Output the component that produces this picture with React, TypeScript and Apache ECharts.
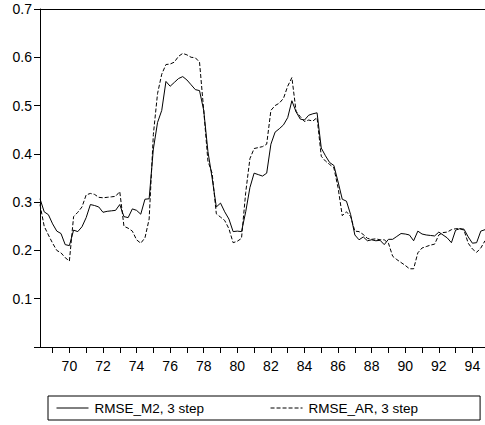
import React, { useEffect, useRef } from "react";
import * as echarts from "echarts";

const startYear = 1968;
const startQuarter = 2;
const quarters: string[] = [];
for (let k = 0; k < 107; k++) {
  const q = startQuarter - 1 + k;
  quarters.push(`${startYear + Math.floor(q / 4)}Q${(q % 4) + 1}`);
}

const seriesNames = ["RMSE_M2, 3 step", "RMSE_AR, 3 step"];

const rmseM2 = [
  0.307, 0.28, 0.274, 0.255, 0.24, 0.235, 0.212, 0.21, 0.242, 0.239,
  0.249, 0.268, 0.295, 0.293, 0.29, 0.279, 0.281, 0.282, 0.283, 0.295,
  0.27, 0.268, 0.286, 0.283, 0.275, 0.306, 0.307, 0.41, 0.465, 0.49,
  0.55, 0.54, 0.548, 0.556, 0.56, 0.553, 0.543, 0.533, 0.531, 0.49,
  0.405, 0.35, 0.29, 0.298, 0.28, 0.265, 0.239, 0.24, 0.239, 0.28,
  0.33, 0.36, 0.357, 0.354, 0.36, 0.42, 0.445, 0.452, 0.46, 0.475,
  0.51, 0.487, 0.472, 0.47, 0.48, 0.483, 0.485, 0.412, 0.396, 0.382,
  0.376, 0.342, 0.306, 0.302, 0.274, 0.232, 0.222, 0.228, 0.22, 0.222,
  0.22, 0.221, 0.212, 0.223, 0.223, 0.229, 0.235, 0.234, 0.232, 0.22,
  0.24, 0.234, 0.232, 0.231, 0.23, 0.238, 0.232, 0.226, 0.216, 0.242,
  0.245, 0.244, 0.228, 0.215, 0.216, 0.24, 0.243,
];

const rmseAR = [
  0.295, 0.25, 0.232, 0.215, 0.2, 0.195, 0.185, 0.178, 0.27, 0.279,
  0.29, 0.315, 0.318, 0.316, 0.31, 0.309, 0.31, 0.311, 0.312, 0.322,
  0.25, 0.246, 0.24, 0.222, 0.215, 0.226, 0.265, 0.44, 0.525, 0.565,
  0.585, 0.586, 0.59, 0.602, 0.608, 0.605, 0.6, 0.599, 0.59, 0.49,
  0.385, 0.36, 0.276, 0.269, 0.262, 0.245, 0.216, 0.219, 0.225, 0.32,
  0.39, 0.411, 0.413, 0.415, 0.42, 0.49, 0.5, 0.505, 0.515, 0.54,
  0.558, 0.488, 0.477, 0.467, 0.47, 0.468, 0.475, 0.395, 0.385, 0.378,
  0.371, 0.33, 0.272, 0.28, 0.27, 0.24, 0.239, 0.233, 0.225, 0.223,
  0.224, 0.222, 0.222, 0.215, 0.188, 0.181, 0.175, 0.169, 0.162, 0.162,
  0.195, 0.205, 0.208, 0.211, 0.213, 0.232, 0.237, 0.238, 0.243, 0.245,
  0.245, 0.242, 0.215, 0.203, 0.196, 0.205, 0.22,
];

const FONT = "Liberation Sans, Arial, sans-serif";

export default function App() {
  const ref = useRef<HTMLDivElement>(null);
  useEffect(() => {
    if (!ref.current) return;
    const chart = echarts.init(ref.current, undefined, { renderer: "svg" });
    const isQ1 = (_i: number, v: string) => v.endsWith("Q1");
    chart.setOption({
      animation: false,
      backgroundColor: "#ffffff",
      textStyle: { fontFamily: FONT, color: "#000" },
      grid: { left: 40, top: 9, right: 0, bottom: 78, containLabel: false },
      legend: {
        left: 48,
        top: 396,
        orient: "horizontal",
        padding: [5, 62, 5, 8],
        borderColor: "#000",
        borderWidth: 1,
        itemWidth: 32,
        itemHeight: 14,
        itemGap: 66,
        selectedMode: false,
        itemStyle: { opacity: 0, borderWidth: 0 },
        lineStyle: { width: 1 },
        textStyle: { fontFamily: FONT, fontSize: 13.5, color: "#000", padding: [0, 0, 0, 1] },
        data: seriesNames,
      },
      xAxis: [
        {
          type: "category",
          data: quarters,
          boundaryGap: false,
          axisLine: { show: true, lineStyle: { color: "#000", width: 1 } },
          axisTick: { show: true, interval: isQ1, length: 6, lineStyle: { color: "#000" } },
          axisLabel: {
            interval: (_i: number, v: string) => v.endsWith("Q1") && parseInt(v.slice(0, 4)) % 2 === 0,
            formatter: (v: string) => v.slice(2, 4),
            fontSize: 14,
            fontFamily: FONT,
            color: "#000",
            margin: 12,
          },
          splitLine: { show: false },
        },
        {
          type: "category",
          data: quarters,
          position: "top",
          boundaryGap: false,
          axisLine: { show: true, lineStyle: { color: "#000", width: 1 } },
          axisTick: { show: false },
          axisLabel: { show: false },
          splitLine: { show: false },
        },
      ],
      yAxis: {
        type: "value",
        min: 0,
        max: 0.7,
        interval: 0.1,
        axisLine: { show: true, lineStyle: { color: "#000", width: 1 } },
        axisTick: { show: true, length: 6, lineStyle: { color: "#000" } },
        axisLabel: {
          formatter: (v: number) => (v === 0 ? "" : v.toFixed(1)),
          fontSize: 14,
          fontFamily: FONT,
          color: "#000",
          margin: 8,
        },
        splitLine: { show: false },
      },
      series: [
        {
          name: seriesNames[0],
          type: "line",
          data: rmseM2,
          symbol: "none",
          showSymbol: false,
          lineStyle: { color: "#000", width: 1, type: "solid" },
          itemStyle: { color: "#000" },
        },
        {
          name: seriesNames[1],
          type: "line",
          data: rmseAR,
          symbol: "none",
          showSymbol: false,
          lineStyle: { color: "#000", width: 1, type: [4, 2] },
          itemStyle: { color: "#000" },
        },
      ],
    });
    return () => chart.dispose();
  }, []);
  return (
    <div
      ref={ref}
      style={{ position: "fixed", left: 0, top: 0, width: 485, height: 425 }}
    />
  );
}
